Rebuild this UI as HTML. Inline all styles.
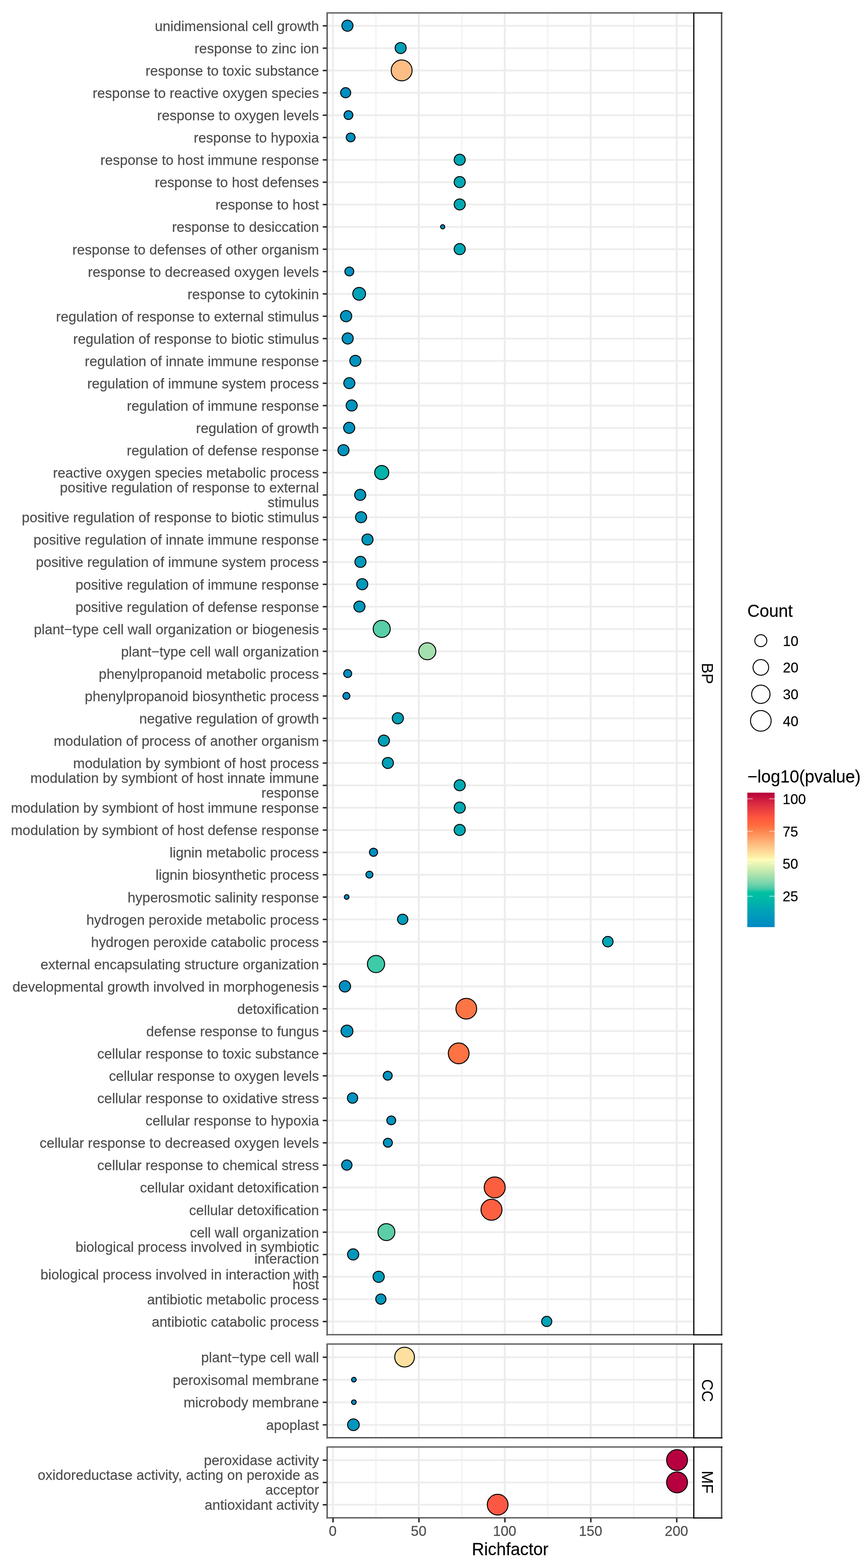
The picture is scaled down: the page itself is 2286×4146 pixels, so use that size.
<!DOCTYPE html>
<html lang="en">
<head>
<meta charset="utf-8">
<title>GO enrichment bubble plot</title>
<style>
html,body{margin:0;padding:0;background:#fff;}
body{width:2286px;height:4146px;overflow:hidden;}
svg{display:block;font-family:"Liberation Sans",Arial,Helvetica,sans-serif;}
</style>
</head>
<body>
<svg width="2286" height="4146" viewBox="0 0 2286 4146">
<rect x="0" y="0" width="2286" height="4146" fill="#fff"/>
<g>
<rect x="990.85" y="32.7" width="5" height="3494.9" fill="#FAFAFA"/>
<rect x="1217.95" y="32.7" width="5" height="3494.9" fill="#FAFAFA"/>
<rect x="1445.05" y="32.7" width="5" height="3494.9" fill="#FAFAFA"/>
<rect x="1672.15" y="32.7" width="5" height="3494.9" fill="#FAFAFA"/>
<rect x="863.1" y="65" width="968.9" height="6.6" fill="#F9F9F9"/>
<rect x="863.1" y="124.07" width="968.9" height="6.6" fill="#F9F9F9"/>
<rect x="863.1" y="183.14" width="968.9" height="6.6" fill="#F9F9F9"/>
<rect x="863.1" y="242.21" width="968.9" height="6.6" fill="#F9F9F9"/>
<rect x="863.1" y="301.28" width="968.9" height="6.6" fill="#F9F9F9"/>
<rect x="863.1" y="360.35" width="968.9" height="6.6" fill="#F9F9F9"/>
<rect x="863.1" y="419.42" width="968.9" height="6.6" fill="#F9F9F9"/>
<rect x="863.1" y="478.49" width="968.9" height="6.6" fill="#F9F9F9"/>
<rect x="863.1" y="537.56" width="968.9" height="6.6" fill="#F9F9F9"/>
<rect x="863.1" y="596.63" width="968.9" height="6.6" fill="#F9F9F9"/>
<rect x="863.1" y="655.7" width="968.9" height="6.6" fill="#F9F9F9"/>
<rect x="863.1" y="714.77" width="968.9" height="6.6" fill="#F9F9F9"/>
<rect x="863.1" y="773.84" width="968.9" height="6.6" fill="#F9F9F9"/>
<rect x="863.1" y="832.91" width="968.9" height="6.6" fill="#F9F9F9"/>
<rect x="863.1" y="891.98" width="968.9" height="6.6" fill="#F9F9F9"/>
<rect x="863.1" y="951.05" width="968.9" height="6.6" fill="#F9F9F9"/>
<rect x="863.1" y="1010.12" width="968.9" height="6.6" fill="#F9F9F9"/>
<rect x="863.1" y="1069.19" width="968.9" height="6.6" fill="#F9F9F9"/>
<rect x="863.1" y="1128.26" width="968.9" height="6.6" fill="#F9F9F9"/>
<rect x="863.1" y="1187.33" width="968.9" height="6.6" fill="#F9F9F9"/>
<rect x="863.1" y="1246.4" width="968.9" height="6.6" fill="#F9F9F9"/>
<rect x="863.1" y="1305.47" width="968.9" height="6.6" fill="#F9F9F9"/>
<rect x="863.1" y="1364.54" width="968.9" height="6.6" fill="#F9F9F9"/>
<rect x="863.1" y="1423.61" width="968.9" height="6.6" fill="#F9F9F9"/>
<rect x="863.1" y="1482.68" width="968.9" height="6.6" fill="#F9F9F9"/>
<rect x="863.1" y="1541.75" width="968.9" height="6.6" fill="#F9F9F9"/>
<rect x="863.1" y="1600.82" width="968.9" height="6.6" fill="#F9F9F9"/>
<rect x="863.1" y="1659.89" width="968.9" height="6.6" fill="#F9F9F9"/>
<rect x="863.1" y="1718.96" width="968.9" height="6.6" fill="#F9F9F9"/>
<rect x="863.1" y="1778.03" width="968.9" height="6.6" fill="#F9F9F9"/>
<rect x="863.1" y="1837.1" width="968.9" height="6.6" fill="#F9F9F9"/>
<rect x="863.1" y="1896.17" width="968.9" height="6.6" fill="#F9F9F9"/>
<rect x="863.1" y="1955.24" width="968.9" height="6.6" fill="#F9F9F9"/>
<rect x="863.1" y="2014.31" width="968.9" height="6.6" fill="#F9F9F9"/>
<rect x="863.1" y="2073.38" width="968.9" height="6.6" fill="#F9F9F9"/>
<rect x="863.1" y="2132.45" width="968.9" height="6.6" fill="#F9F9F9"/>
<rect x="863.1" y="2191.52" width="968.9" height="6.6" fill="#F9F9F9"/>
<rect x="863.1" y="2250.59" width="968.9" height="6.6" fill="#F9F9F9"/>
<rect x="863.1" y="2309.66" width="968.9" height="6.6" fill="#F9F9F9"/>
<rect x="863.1" y="2368.73" width="968.9" height="6.6" fill="#F9F9F9"/>
<rect x="863.1" y="2427.8" width="968.9" height="6.6" fill="#F9F9F9"/>
<rect x="863.1" y="2486.87" width="968.9" height="6.6" fill="#F9F9F9"/>
<rect x="863.1" y="2545.94" width="968.9" height="6.6" fill="#F9F9F9"/>
<rect x="863.1" y="2605.01" width="968.9" height="6.6" fill="#F9F9F9"/>
<rect x="863.1" y="2664.08" width="968.9" height="6.6" fill="#F9F9F9"/>
<rect x="863.1" y="2723.15" width="968.9" height="6.6" fill="#F9F9F9"/>
<rect x="863.1" y="2782.22" width="968.9" height="6.6" fill="#F9F9F9"/>
<rect x="863.1" y="2841.29" width="968.9" height="6.6" fill="#F9F9F9"/>
<rect x="863.1" y="2900.36" width="968.9" height="6.6" fill="#F9F9F9"/>
<rect x="863.1" y="2959.43" width="968.9" height="6.6" fill="#F9F9F9"/>
<rect x="863.1" y="3018.5" width="968.9" height="6.6" fill="#F9F9F9"/>
<rect x="863.1" y="3077.57" width="968.9" height="6.6" fill="#F9F9F9"/>
<rect x="863.1" y="3136.64" width="968.9" height="6.6" fill="#F9F9F9"/>
<rect x="863.1" y="3195.71" width="968.9" height="6.6" fill="#F9F9F9"/>
<rect x="863.1" y="3254.78" width="968.9" height="6.6" fill="#F9F9F9"/>
<rect x="863.1" y="3313.85" width="968.9" height="6.6" fill="#F9F9F9"/>
<rect x="863.1" y="3372.92" width="968.9" height="6.6" fill="#F9F9F9"/>
<rect x="863.1" y="3431.99" width="968.9" height="6.6" fill="#F9F9F9"/>
<rect x="863.1" y="3491.06" width="968.9" height="6.6" fill="#F9F9F9"/>
<rect x="876.3" y="32.7" width="7" height="3494.9" fill="#F9F9F9"/>
<rect x="1103.4" y="32.7" width="7" height="3494.9" fill="#F9F9F9"/>
<rect x="1330.5" y="32.7" width="7" height="3494.9" fill="#F9F9F9"/>
<rect x="1557.6" y="32.7" width="7" height="3494.9" fill="#F9F9F9"/>
<rect x="1784.7" y="32.7" width="7" height="3494.9" fill="#F9F9F9"/>
<rect x="992.25" y="32.7" width="2.2" height="3494.9" fill="#F1F1F1"/>
<rect x="1219.35" y="32.7" width="2.2" height="3494.9" fill="#F1F1F1"/>
<rect x="1446.45" y="32.7" width="2.2" height="3494.9" fill="#F1F1F1"/>
<rect x="1673.55" y="32.7" width="2.2" height="3494.9" fill="#F1F1F1"/>
<rect x="863.1" y="66.2" width="968.9" height="4.2" fill="#F1F1F1"/>
<rect x="863.1" y="125.27" width="968.9" height="4.2" fill="#F1F1F1"/>
<rect x="863.1" y="184.34" width="968.9" height="4.2" fill="#F1F1F1"/>
<rect x="863.1" y="243.41" width="968.9" height="4.2" fill="#F1F1F1"/>
<rect x="863.1" y="302.48" width="968.9" height="4.2" fill="#F1F1F1"/>
<rect x="863.1" y="361.55" width="968.9" height="4.2" fill="#F1F1F1"/>
<rect x="863.1" y="420.62" width="968.9" height="4.2" fill="#F1F1F1"/>
<rect x="863.1" y="479.69" width="968.9" height="4.2" fill="#F1F1F1"/>
<rect x="863.1" y="538.76" width="968.9" height="4.2" fill="#F1F1F1"/>
<rect x="863.1" y="597.83" width="968.9" height="4.2" fill="#F1F1F1"/>
<rect x="863.1" y="656.9" width="968.9" height="4.2" fill="#F1F1F1"/>
<rect x="863.1" y="715.97" width="968.9" height="4.2" fill="#F1F1F1"/>
<rect x="863.1" y="775.04" width="968.9" height="4.2" fill="#F1F1F1"/>
<rect x="863.1" y="834.11" width="968.9" height="4.2" fill="#F1F1F1"/>
<rect x="863.1" y="893.18" width="968.9" height="4.2" fill="#F1F1F1"/>
<rect x="863.1" y="952.25" width="968.9" height="4.2" fill="#F1F1F1"/>
<rect x="863.1" y="1011.32" width="968.9" height="4.2" fill="#F1F1F1"/>
<rect x="863.1" y="1070.39" width="968.9" height="4.2" fill="#F1F1F1"/>
<rect x="863.1" y="1129.46" width="968.9" height="4.2" fill="#F1F1F1"/>
<rect x="863.1" y="1188.53" width="968.9" height="4.2" fill="#F1F1F1"/>
<rect x="863.1" y="1247.6" width="968.9" height="4.2" fill="#F1F1F1"/>
<rect x="863.1" y="1306.67" width="968.9" height="4.2" fill="#F1F1F1"/>
<rect x="863.1" y="1365.74" width="968.9" height="4.2" fill="#F1F1F1"/>
<rect x="863.1" y="1424.81" width="968.9" height="4.2" fill="#F1F1F1"/>
<rect x="863.1" y="1483.88" width="968.9" height="4.2" fill="#F1F1F1"/>
<rect x="863.1" y="1542.95" width="968.9" height="4.2" fill="#F1F1F1"/>
<rect x="863.1" y="1602.02" width="968.9" height="4.2" fill="#F1F1F1"/>
<rect x="863.1" y="1661.09" width="968.9" height="4.2" fill="#F1F1F1"/>
<rect x="863.1" y="1720.16" width="968.9" height="4.2" fill="#F1F1F1"/>
<rect x="863.1" y="1779.23" width="968.9" height="4.2" fill="#F1F1F1"/>
<rect x="863.1" y="1838.3" width="968.9" height="4.2" fill="#F1F1F1"/>
<rect x="863.1" y="1897.37" width="968.9" height="4.2" fill="#F1F1F1"/>
<rect x="863.1" y="1956.44" width="968.9" height="4.2" fill="#F1F1F1"/>
<rect x="863.1" y="2015.51" width="968.9" height="4.2" fill="#F1F1F1"/>
<rect x="863.1" y="2074.58" width="968.9" height="4.2" fill="#F1F1F1"/>
<rect x="863.1" y="2133.65" width="968.9" height="4.2" fill="#F1F1F1"/>
<rect x="863.1" y="2192.72" width="968.9" height="4.2" fill="#F1F1F1"/>
<rect x="863.1" y="2251.79" width="968.9" height="4.2" fill="#F1F1F1"/>
<rect x="863.1" y="2310.86" width="968.9" height="4.2" fill="#F1F1F1"/>
<rect x="863.1" y="2369.93" width="968.9" height="4.2" fill="#F1F1F1"/>
<rect x="863.1" y="2429" width="968.9" height="4.2" fill="#F1F1F1"/>
<rect x="863.1" y="2488.07" width="968.9" height="4.2" fill="#F1F1F1"/>
<rect x="863.1" y="2547.14" width="968.9" height="4.2" fill="#F1F1F1"/>
<rect x="863.1" y="2606.21" width="968.9" height="4.2" fill="#F1F1F1"/>
<rect x="863.1" y="2665.28" width="968.9" height="4.2" fill="#F1F1F1"/>
<rect x="863.1" y="2724.35" width="968.9" height="4.2" fill="#F1F1F1"/>
<rect x="863.1" y="2783.42" width="968.9" height="4.2" fill="#F1F1F1"/>
<rect x="863.1" y="2842.49" width="968.9" height="4.2" fill="#F1F1F1"/>
<rect x="863.1" y="2901.56" width="968.9" height="4.2" fill="#F1F1F1"/>
<rect x="863.1" y="2960.63" width="968.9" height="4.2" fill="#F1F1F1"/>
<rect x="863.1" y="3019.7" width="968.9" height="4.2" fill="#F1F1F1"/>
<rect x="863.1" y="3078.77" width="968.9" height="4.2" fill="#F1F1F1"/>
<rect x="863.1" y="3137.84" width="968.9" height="4.2" fill="#F1F1F1"/>
<rect x="863.1" y="3196.91" width="968.9" height="4.2" fill="#F1F1F1"/>
<rect x="863.1" y="3255.98" width="968.9" height="4.2" fill="#F1F1F1"/>
<rect x="863.1" y="3315.05" width="968.9" height="4.2" fill="#F1F1F1"/>
<rect x="863.1" y="3374.12" width="968.9" height="4.2" fill="#F1F1F1"/>
<rect x="863.1" y="3433.19" width="968.9" height="4.2" fill="#F1F1F1"/>
<rect x="863.1" y="3492.26" width="968.9" height="4.2" fill="#F1F1F1"/>
<rect x="877.8" y="32.7" width="4" height="3494.9" fill="#ECECEC"/>
<rect x="1104.9" y="32.7" width="4" height="3494.9" fill="#ECECEC"/>
<rect x="1332" y="32.7" width="4" height="3494.9" fill="#ECECEC"/>
<rect x="1559.1" y="32.7" width="4" height="3494.9" fill="#ECECEC"/>
<rect x="1786.2" y="32.7" width="4" height="3494.9" fill="#ECECEC"/>
<rect x="863.1" y="67.3" width="968.9" height="2" fill="#EAEAEA"/>
<rect x="863.1" y="126.37" width="968.9" height="2" fill="#EAEAEA"/>
<rect x="863.1" y="185.44" width="968.9" height="2" fill="#EAEAEA"/>
<rect x="863.1" y="244.51" width="968.9" height="2" fill="#EAEAEA"/>
<rect x="863.1" y="303.58" width="968.9" height="2" fill="#EAEAEA"/>
<rect x="863.1" y="362.65" width="968.9" height="2" fill="#EAEAEA"/>
<rect x="863.1" y="421.72" width="968.9" height="2" fill="#EAEAEA"/>
<rect x="863.1" y="480.79" width="968.9" height="2" fill="#EAEAEA"/>
<rect x="863.1" y="539.86" width="968.9" height="2" fill="#EAEAEA"/>
<rect x="863.1" y="598.93" width="968.9" height="2" fill="#EAEAEA"/>
<rect x="863.1" y="658" width="968.9" height="2" fill="#EAEAEA"/>
<rect x="863.1" y="717.07" width="968.9" height="2" fill="#EAEAEA"/>
<rect x="863.1" y="776.14" width="968.9" height="2" fill="#EAEAEA"/>
<rect x="863.1" y="835.21" width="968.9" height="2" fill="#EAEAEA"/>
<rect x="863.1" y="894.28" width="968.9" height="2" fill="#EAEAEA"/>
<rect x="863.1" y="953.35" width="968.9" height="2" fill="#EAEAEA"/>
<rect x="863.1" y="1012.42" width="968.9" height="2" fill="#EAEAEA"/>
<rect x="863.1" y="1071.49" width="968.9" height="2" fill="#EAEAEA"/>
<rect x="863.1" y="1130.56" width="968.9" height="2" fill="#EAEAEA"/>
<rect x="863.1" y="1189.63" width="968.9" height="2" fill="#EAEAEA"/>
<rect x="863.1" y="1248.7" width="968.9" height="2" fill="#EAEAEA"/>
<rect x="863.1" y="1307.77" width="968.9" height="2" fill="#EAEAEA"/>
<rect x="863.1" y="1366.84" width="968.9" height="2" fill="#EAEAEA"/>
<rect x="863.1" y="1425.91" width="968.9" height="2" fill="#EAEAEA"/>
<rect x="863.1" y="1484.98" width="968.9" height="2" fill="#EAEAEA"/>
<rect x="863.1" y="1544.05" width="968.9" height="2" fill="#EAEAEA"/>
<rect x="863.1" y="1603.12" width="968.9" height="2" fill="#EAEAEA"/>
<rect x="863.1" y="1662.19" width="968.9" height="2" fill="#EAEAEA"/>
<rect x="863.1" y="1721.26" width="968.9" height="2" fill="#EAEAEA"/>
<rect x="863.1" y="1780.33" width="968.9" height="2" fill="#EAEAEA"/>
<rect x="863.1" y="1839.4" width="968.9" height="2" fill="#EAEAEA"/>
<rect x="863.1" y="1898.47" width="968.9" height="2" fill="#EAEAEA"/>
<rect x="863.1" y="1957.54" width="968.9" height="2" fill="#EAEAEA"/>
<rect x="863.1" y="2016.61" width="968.9" height="2" fill="#EAEAEA"/>
<rect x="863.1" y="2075.68" width="968.9" height="2" fill="#EAEAEA"/>
<rect x="863.1" y="2134.75" width="968.9" height="2" fill="#EAEAEA"/>
<rect x="863.1" y="2193.82" width="968.9" height="2" fill="#EAEAEA"/>
<rect x="863.1" y="2252.89" width="968.9" height="2" fill="#EAEAEA"/>
<rect x="863.1" y="2311.96" width="968.9" height="2" fill="#EAEAEA"/>
<rect x="863.1" y="2371.03" width="968.9" height="2" fill="#EAEAEA"/>
<rect x="863.1" y="2430.1" width="968.9" height="2" fill="#EAEAEA"/>
<rect x="863.1" y="2489.17" width="968.9" height="2" fill="#EAEAEA"/>
<rect x="863.1" y="2548.24" width="968.9" height="2" fill="#EAEAEA"/>
<rect x="863.1" y="2607.31" width="968.9" height="2" fill="#EAEAEA"/>
<rect x="863.1" y="2666.38" width="968.9" height="2" fill="#EAEAEA"/>
<rect x="863.1" y="2725.45" width="968.9" height="2" fill="#EAEAEA"/>
<rect x="863.1" y="2784.52" width="968.9" height="2" fill="#EAEAEA"/>
<rect x="863.1" y="2843.59" width="968.9" height="2" fill="#EAEAEA"/>
<rect x="863.1" y="2902.66" width="968.9" height="2" fill="#EAEAEA"/>
<rect x="863.1" y="2961.73" width="968.9" height="2" fill="#EAEAEA"/>
<rect x="863.1" y="3020.8" width="968.9" height="2" fill="#EAEAEA"/>
<rect x="863.1" y="3079.87" width="968.9" height="2" fill="#EAEAEA"/>
<rect x="863.1" y="3138.94" width="968.9" height="2" fill="#EAEAEA"/>
<rect x="863.1" y="3198.01" width="968.9" height="2" fill="#EAEAEA"/>
<rect x="863.1" y="3257.08" width="968.9" height="2" fill="#EAEAEA"/>
<rect x="863.1" y="3316.15" width="968.9" height="2" fill="#EAEAEA"/>
<rect x="863.1" y="3375.22" width="968.9" height="2" fill="#EAEAEA"/>
<rect x="863.1" y="3434.29" width="968.9" height="2" fill="#EAEAEA"/>
<rect x="863.1" y="3493.36" width="968.9" height="2" fill="#EAEAEA"/>
<circle cx="918.2" cy="68" r="14.65" fill="#0091C0" stroke="#000" stroke-width="2.5"/>
<circle cx="1058.8" cy="127.07" r="14.65" fill="#00A0B6" stroke="#000" stroke-width="2.5"/>
<circle cx="1061.5" cy="186.14" r="27.65" fill="#FDBE85" stroke="#000" stroke-width="2.5"/>
<circle cx="913.5" cy="245.21" r="13.35" fill="#008FC0" stroke="#000" stroke-width="2.5"/>
<circle cx="920.9" cy="304.28" r="11.65" fill="#008FC2" stroke="#000" stroke-width="2.5"/>
<circle cx="926.7" cy="363.35" r="11.65" fill="#0090C2" stroke="#000" stroke-width="2.5"/>
<circle cx="1214.9" cy="422.42" r="14.65" fill="#00A8B4" stroke="#000" stroke-width="2.5"/>
<circle cx="1214.9" cy="481.49" r="14.65" fill="#00A8B4" stroke="#000" stroke-width="2.5"/>
<circle cx="1214.9" cy="540.56" r="14.65" fill="#00A8B4" stroke="#000" stroke-width="2.5"/>
<circle cx="1169.9" cy="599.63" r="5.55" fill="#008CC4" stroke="#000" stroke-width="2.5"/>
<circle cx="1214.9" cy="658.7" r="14.65" fill="#00A8B4" stroke="#000" stroke-width="2.5"/>
<circle cx="923.2" cy="717.77" r="11.75" fill="#0090C2" stroke="#000" stroke-width="2.5"/>
<circle cx="949.2" cy="776.84" r="16.95" fill="#00A2B8" stroke="#000" stroke-width="2.5"/>
<circle cx="914.7" cy="835.91" r="14.85" fill="#0094BF" stroke="#000" stroke-width="2.5"/>
<circle cx="918.9" cy="894.98" r="14.65" fill="#0094BF" stroke="#000" stroke-width="2.5"/>
<circle cx="939.1" cy="954.05" r="14.65" fill="#0094BF" stroke="#000" stroke-width="2.5"/>
<circle cx="923.2" cy="1013.12" r="14.65" fill="#0094BF" stroke="#000" stroke-width="2.5"/>
<circle cx="929.4" cy="1072.19" r="14.65" fill="#0094BF" stroke="#000" stroke-width="2.5"/>
<circle cx="922.8" cy="1131.26" r="14.65" fill="#0094BF" stroke="#000" stroke-width="2.5"/>
<circle cx="907.7" cy="1190.33" r="14.65" fill="#0094BF" stroke="#000" stroke-width="2.5"/>
<circle cx="1008.8" cy="1249.4" r="18.65" fill="#00B2A9" stroke="#000" stroke-width="2.5"/>
<circle cx="951.9" cy="1308.47" r="14.65" fill="#0099BC" stroke="#000" stroke-width="2.5"/>
<circle cx="954.2" cy="1367.54" r="14.65" fill="#0099BC" stroke="#000" stroke-width="2.5"/>
<circle cx="971.2" cy="1426.61" r="14.65" fill="#0099BC" stroke="#000" stroke-width="2.5"/>
<circle cx="952.6" cy="1485.68" r="14.65" fill="#0099BC" stroke="#000" stroke-width="2.5"/>
<circle cx="957.3" cy="1544.75" r="14.65" fill="#0099BC" stroke="#000" stroke-width="2.5"/>
<circle cx="949.9" cy="1603.82" r="14.65" fill="#0099BC" stroke="#000" stroke-width="2.5"/>
<circle cx="1008.8" cy="1662.89" r="22.55" fill="#58CEA9" stroke="#000" stroke-width="2.5"/>
<circle cx="1129.3" cy="1721.96" r="22.55" fill="#A3E0AF" stroke="#000" stroke-width="2.5"/>
<circle cx="918.9" cy="1781.03" r="10.55" fill="#008FC3" stroke="#000" stroke-width="2.5"/>
<circle cx="915.5" cy="1840.1" r="9.25" fill="#008FC3" stroke="#000" stroke-width="2.5"/>
<circle cx="1051.4" cy="1899.17" r="14.75" fill="#00A0B7" stroke="#000" stroke-width="2.5"/>
<circle cx="1014.6" cy="1958.24" r="14.65" fill="#00A0B7" stroke="#000" stroke-width="2.5"/>
<circle cx="1025.1" cy="2017.31" r="14.65" fill="#00A0B7" stroke="#000" stroke-width="2.5"/>
<circle cx="1214.9" cy="2076.38" r="14.65" fill="#00AAB3" stroke="#000" stroke-width="2.5"/>
<circle cx="1214.9" cy="2135.45" r="14.65" fill="#00AAB3" stroke="#000" stroke-width="2.5"/>
<circle cx="1214.9" cy="2194.52" r="14.65" fill="#00AAB3" stroke="#000" stroke-width="2.5"/>
<circle cx="987.1" cy="2253.59" r="10.75" fill="#008FC3" stroke="#000" stroke-width="2.5"/>
<circle cx="976.3" cy="2312.66" r="9.25" fill="#008FC3" stroke="#000" stroke-width="2.5"/>
<circle cx="916.2" cy="2371.73" r="6.15" fill="#008FC3" stroke="#000" stroke-width="2.5"/>
<circle cx="1064.2" cy="2430.8" r="13.65" fill="#009DB9" stroke="#000" stroke-width="2.5"/>
<circle cx="1606.4" cy="2489.87" r="13.85" fill="#00A6B7" stroke="#000" stroke-width="2.5"/>
<circle cx="993.7" cy="2548.94" r="22.75" fill="#3ECBA8" stroke="#000" stroke-width="2.5"/>
<circle cx="911.6" cy="2608.01" r="14.95" fill="#0090C1" stroke="#000" stroke-width="2.5"/>
<circle cx="1232.3" cy="2667.08" r="27.45" fill="#FB7545" stroke="#000" stroke-width="2.5"/>
<circle cx="917" cy="2726.15" r="15.75" fill="#0094BF" stroke="#000" stroke-width="2.5"/>
<circle cx="1212.2" cy="2785.22" r="27.45" fill="#FD7343" stroke="#000" stroke-width="2.5"/>
<circle cx="1024.7" cy="2844.29" r="11.75" fill="#0094C0" stroke="#000" stroke-width="2.5"/>
<circle cx="931.7" cy="2903.36" r="13.65" fill="#0094C0" stroke="#000" stroke-width="2.5"/>
<circle cx="1034" cy="2962.43" r="11.75" fill="#0094C0" stroke="#000" stroke-width="2.5"/>
<circle cx="1025.1" cy="3021.5" r="11.85" fill="#0094C0" stroke="#000" stroke-width="2.5"/>
<circle cx="916.6" cy="3080.57" r="13.65" fill="#0092C1" stroke="#000" stroke-width="2.5"/>
<circle cx="1307.4" cy="3139.64" r="27.75" fill="#FC5F3F" stroke="#000" stroke-width="2.5"/>
<circle cx="1298.9" cy="3198.71" r="27.75" fill="#FC6040" stroke="#000" stroke-width="2.5"/>
<circle cx="1021.2" cy="3257.78" r="22.35" fill="#5BCEA9" stroke="#000" stroke-width="2.5"/>
<circle cx="933.3" cy="3316.85" r="14.75" fill="#0097BD" stroke="#000" stroke-width="2.5"/>
<circle cx="1000.7" cy="3375.92" r="14.75" fill="#009CBA" stroke="#000" stroke-width="2.5"/>
<circle cx="1006.5" cy="3434.99" r="13.45" fill="#0099BC" stroke="#000" stroke-width="2.5"/>
<circle cx="1444.9" cy="3494.06" r="13.45" fill="#00A2B8" stroke="#000" stroke-width="2.5"/>
<rect x="863.1" y="32.7" width="968.9" height="2" fill="#262626"/>
<rect x="863.1" y="34.7" width="968.9" height="1.7" fill="#8f8f8f"/>
<rect x="863.1" y="3527.6" width="970.9" height="2" fill="#262626"/>
<rect x="863.1" y="3529.6" width="970.9" height="1.7" fill="#8f8f8f"/>
<rect x="863.1" y="32.7" width="2" height="3498.6" fill="#262626"/>
<rect x="865.1" y="32.7" width="1.7" height="3498.6" fill="#8f8f8f"/>
<rect x="1832" y="32.7" width="2" height="3498.4" fill="#000"/>
<rect x="1834" y="32.7" width="1.2" height="3498.4" fill="#1a1a1a"/>
<rect x="1905.4" y="32.7" width="2" height="3498.4" fill="#222"/>
<rect x="1907.4" y="32.7" width="1.8" height="3498.4" fill="#666"/>
<rect x="1832" y="32.7" width="77.2" height="3.0" fill="#111"/>
<rect x="1832" y="3527.8" width="77.2" height="3.3" fill="#111"/>
<text transform="translate(1870.3 1780.8) rotate(90)" text-anchor="middle" font-size="42" fill="#000" y="15.1">BP</text>
<rect x="853" y="66.4" width="10.1" height="3.8" fill="#262626"/>
<text transform="translate(843 81.8) scale(1 1.02)" text-anchor="end" font-size="37" fill="#4D4D4D" stroke="#4D4D4D" stroke-width="0.25">unidimensional cell growth</text>
<rect x="853" y="125.47" width="10.1" height="3.8" fill="#262626"/>
<text transform="translate(843 140.87) scale(1 1.02)" text-anchor="end" font-size="37" fill="#4D4D4D" stroke="#4D4D4D" stroke-width="0.25">response to zinc ion</text>
<rect x="853" y="184.54" width="10.1" height="3.8" fill="#262626"/>
<text transform="translate(843 199.94) scale(1 1.02)" text-anchor="end" font-size="37" fill="#4D4D4D" stroke="#4D4D4D" stroke-width="0.25">response to toxic substance</text>
<rect x="853" y="243.61" width="10.1" height="3.8" fill="#262626"/>
<text transform="translate(843 259.01) scale(1 1.02)" text-anchor="end" font-size="37" fill="#4D4D4D" stroke="#4D4D4D" stroke-width="0.25">response to reactive oxygen species</text>
<rect x="853" y="302.68" width="10.1" height="3.8" fill="#262626"/>
<text transform="translate(843 318.08) scale(1 1.02)" text-anchor="end" font-size="37" fill="#4D4D4D" stroke="#4D4D4D" stroke-width="0.25">response to oxygen levels</text>
<rect x="853" y="361.75" width="10.1" height="3.8" fill="#262626"/>
<text transform="translate(843 377.15) scale(1 1.02)" text-anchor="end" font-size="37" fill="#4D4D4D" stroke="#4D4D4D" stroke-width="0.25">response to hypoxia</text>
<rect x="853" y="420.82" width="10.1" height="3.8" fill="#262626"/>
<text transform="translate(843 436.22) scale(1 1.02)" text-anchor="end" font-size="37" fill="#4D4D4D" stroke="#4D4D4D" stroke-width="0.25">response to host immune response</text>
<rect x="853" y="479.89" width="10.1" height="3.8" fill="#262626"/>
<text transform="translate(843 495.29) scale(1 1.02)" text-anchor="end" font-size="37" fill="#4D4D4D" stroke="#4D4D4D" stroke-width="0.25">response to host defenses</text>
<rect x="853" y="538.96" width="10.1" height="3.8" fill="#262626"/>
<text transform="translate(843 554.36) scale(1 1.02)" text-anchor="end" font-size="37" fill="#4D4D4D" stroke="#4D4D4D" stroke-width="0.25">response to host</text>
<rect x="853" y="598.03" width="10.1" height="3.8" fill="#262626"/>
<text transform="translate(843 613.43) scale(1 1.02)" text-anchor="end" font-size="37" fill="#4D4D4D" stroke="#4D4D4D" stroke-width="0.25">response to desiccation</text>
<rect x="853" y="657.1" width="10.1" height="3.8" fill="#262626"/>
<text transform="translate(843 672.5) scale(1 1.02)" text-anchor="end" font-size="37" fill="#4D4D4D" stroke="#4D4D4D" stroke-width="0.25">response to defenses of other organism</text>
<rect x="853" y="716.17" width="10.1" height="3.8" fill="#262626"/>
<text transform="translate(843 731.57) scale(1 1.02)" text-anchor="end" font-size="37" fill="#4D4D4D" stroke="#4D4D4D" stroke-width="0.25">response to decreased oxygen levels</text>
<rect x="853" y="775.24" width="10.1" height="3.8" fill="#262626"/>
<text transform="translate(843 790.64) scale(1 1.02)" text-anchor="end" font-size="37" fill="#4D4D4D" stroke="#4D4D4D" stroke-width="0.25">response to cytokinin</text>
<rect x="853" y="834.31" width="10.1" height="3.8" fill="#262626"/>
<text transform="translate(843 849.71) scale(1 1.02)" text-anchor="end" font-size="37" fill="#4D4D4D" stroke="#4D4D4D" stroke-width="0.25">regulation of response to external stimulus</text>
<rect x="853" y="893.38" width="10.1" height="3.8" fill="#262626"/>
<text transform="translate(843 908.78) scale(1 1.02)" text-anchor="end" font-size="37" fill="#4D4D4D" stroke="#4D4D4D" stroke-width="0.25">regulation of response to biotic stimulus</text>
<rect x="853" y="952.45" width="10.1" height="3.8" fill="#262626"/>
<text transform="translate(843 967.85) scale(1 1.02)" text-anchor="end" font-size="37" fill="#4D4D4D" stroke="#4D4D4D" stroke-width="0.25">regulation of innate immune response</text>
<rect x="853" y="1011.52" width="10.1" height="3.8" fill="#262626"/>
<text transform="translate(843 1026.92) scale(1 1.02)" text-anchor="end" font-size="37" fill="#4D4D4D" stroke="#4D4D4D" stroke-width="0.25">regulation of immune system process</text>
<rect x="853" y="1070.59" width="10.1" height="3.8" fill="#262626"/>
<text transform="translate(843 1085.99) scale(1 1.02)" text-anchor="end" font-size="37" fill="#4D4D4D" stroke="#4D4D4D" stroke-width="0.25">regulation of immune response</text>
<rect x="853" y="1129.66" width="10.1" height="3.8" fill="#262626"/>
<text transform="translate(843 1145.06) scale(1 1.02)" text-anchor="end" font-size="37" fill="#4D4D4D" stroke="#4D4D4D" stroke-width="0.25">regulation of growth</text>
<rect x="853" y="1188.73" width="10.1" height="3.8" fill="#262626"/>
<text transform="translate(843 1204.13) scale(1 1.02)" text-anchor="end" font-size="37" fill="#4D4D4D" stroke="#4D4D4D" stroke-width="0.25">regulation of defense response</text>
<rect x="853" y="1247.8" width="10.1" height="3.8" fill="#262626"/>
<text transform="translate(843 1263.2) scale(1 1.02)" text-anchor="end" font-size="37" fill="#4D4D4D" stroke="#4D4D4D" stroke-width="0.25">reactive oxygen species metabolic process</text>
<rect x="853" y="1306.87" width="10.1" height="3.8" fill="#262626"/>
<text transform="translate(843 1302.07) scale(1 1.02)" text-anchor="end" font-size="37" fill="#4D4D4D" stroke="#4D4D4D" stroke-width="0.25">positive regulation of response to external</text>
<text transform="translate(843 1340.87) scale(1 1.02)" text-anchor="end" font-size="37" fill="#4D4D4D" stroke="#4D4D4D" stroke-width="0.25">stimulus</text>
<rect x="853" y="1365.94" width="10.1" height="3.8" fill="#262626"/>
<text transform="translate(843 1381.34) scale(1 1.02)" text-anchor="end" font-size="37" fill="#4D4D4D" stroke="#4D4D4D" stroke-width="0.25">positive regulation of response to biotic stimulus</text>
<rect x="853" y="1425.01" width="10.1" height="3.8" fill="#262626"/>
<text transform="translate(843 1440.41) scale(1 1.02)" text-anchor="end" font-size="37" fill="#4D4D4D" stroke="#4D4D4D" stroke-width="0.25">positive regulation of innate immune response</text>
<rect x="853" y="1484.08" width="10.1" height="3.8" fill="#262626"/>
<text transform="translate(843 1499.48) scale(1 1.02)" text-anchor="end" font-size="37" fill="#4D4D4D" stroke="#4D4D4D" stroke-width="0.25">positive regulation of immune system process</text>
<rect x="853" y="1543.15" width="10.1" height="3.8" fill="#262626"/>
<text transform="translate(843 1558.55) scale(1 1.02)" text-anchor="end" font-size="37" fill="#4D4D4D" stroke="#4D4D4D" stroke-width="0.25">positive regulation of immune response</text>
<rect x="853" y="1602.22" width="10.1" height="3.8" fill="#262626"/>
<text transform="translate(843 1617.62) scale(1 1.02)" text-anchor="end" font-size="37" fill="#4D4D4D" stroke="#4D4D4D" stroke-width="0.25">positive regulation of defense response</text>
<rect x="853" y="1661.29" width="10.1" height="3.8" fill="#262626"/>
<text transform="translate(843 1676.69) scale(1 1.02)" text-anchor="end" font-size="37" fill="#4D4D4D" stroke="#4D4D4D" stroke-width="0.25">plant−type cell wall organization or biogenesis</text>
<rect x="853" y="1720.36" width="10.1" height="3.8" fill="#262626"/>
<text transform="translate(843 1735.76) scale(1 1.02)" text-anchor="end" font-size="37" fill="#4D4D4D" stroke="#4D4D4D" stroke-width="0.25">plant−type cell wall organization</text>
<rect x="853" y="1779.43" width="10.1" height="3.8" fill="#262626"/>
<text transform="translate(843 1794.83) scale(1 1.02)" text-anchor="end" font-size="37" fill="#4D4D4D" stroke="#4D4D4D" stroke-width="0.25">phenylpropanoid metabolic process</text>
<rect x="853" y="1838.5" width="10.1" height="3.8" fill="#262626"/>
<text transform="translate(843 1853.9) scale(1 1.02)" text-anchor="end" font-size="37" fill="#4D4D4D" stroke="#4D4D4D" stroke-width="0.25">phenylpropanoid biosynthetic process</text>
<rect x="853" y="1897.57" width="10.1" height="3.8" fill="#262626"/>
<text transform="translate(843 1912.97) scale(1 1.02)" text-anchor="end" font-size="37" fill="#4D4D4D" stroke="#4D4D4D" stroke-width="0.25">negative regulation of growth</text>
<rect x="853" y="1956.64" width="10.1" height="3.8" fill="#262626"/>
<text transform="translate(843 1972.04) scale(1 1.02)" text-anchor="end" font-size="37" fill="#4D4D4D" stroke="#4D4D4D" stroke-width="0.25">modulation of process of another organism</text>
<rect x="853" y="2015.71" width="10.1" height="3.8" fill="#262626"/>
<text transform="translate(843 2031.11) scale(1 1.02)" text-anchor="end" font-size="37" fill="#4D4D4D" stroke="#4D4D4D" stroke-width="0.25">modulation by symbiont of host process</text>
<rect x="853" y="2074.78" width="10.1" height="3.8" fill="#262626"/>
<text transform="translate(843 2069.98) scale(1 1.02)" text-anchor="end" font-size="37" fill="#4D4D4D" stroke="#4D4D4D" stroke-width="0.25">modulation by symbiont of host innate immune</text>
<text transform="translate(843 2108.78) scale(1 1.02)" text-anchor="end" font-size="37" fill="#4D4D4D" stroke="#4D4D4D" stroke-width="0.25">response</text>
<rect x="853" y="2133.85" width="10.1" height="3.8" fill="#262626"/>
<text transform="translate(843 2149.25) scale(1 1.02)" text-anchor="end" font-size="37" fill="#4D4D4D" stroke="#4D4D4D" stroke-width="0.25">modulation by symbiont of host immune response</text>
<rect x="853" y="2192.92" width="10.1" height="3.8" fill="#262626"/>
<text transform="translate(843 2208.32) scale(1 1.02)" text-anchor="end" font-size="37" fill="#4D4D4D" stroke="#4D4D4D" stroke-width="0.25">modulation by symbiont of host defense response</text>
<rect x="853" y="2251.99" width="10.1" height="3.8" fill="#262626"/>
<text transform="translate(843 2267.39) scale(1 1.02)" text-anchor="end" font-size="37" fill="#4D4D4D" stroke="#4D4D4D" stroke-width="0.25">lignin metabolic process</text>
<rect x="853" y="2311.06" width="10.1" height="3.8" fill="#262626"/>
<text transform="translate(843 2326.46) scale(1 1.02)" text-anchor="end" font-size="37" fill="#4D4D4D" stroke="#4D4D4D" stroke-width="0.25">lignin biosynthetic process</text>
<rect x="853" y="2370.13" width="10.1" height="3.8" fill="#262626"/>
<text transform="translate(843 2385.53) scale(1 1.02)" text-anchor="end" font-size="37" fill="#4D4D4D" stroke="#4D4D4D" stroke-width="0.25">hyperosmotic salinity response</text>
<rect x="853" y="2429.2" width="10.1" height="3.8" fill="#262626"/>
<text transform="translate(843 2444.6) scale(1 1.02)" text-anchor="end" font-size="37" fill="#4D4D4D" stroke="#4D4D4D" stroke-width="0.25">hydrogen peroxide metabolic process</text>
<rect x="853" y="2488.27" width="10.1" height="3.8" fill="#262626"/>
<text transform="translate(843 2503.67) scale(1 1.02)" text-anchor="end" font-size="37" fill="#4D4D4D" stroke="#4D4D4D" stroke-width="0.25">hydrogen peroxide catabolic process</text>
<rect x="853" y="2547.34" width="10.1" height="3.8" fill="#262626"/>
<text transform="translate(843 2562.74) scale(1 1.02)" text-anchor="end" font-size="37" fill="#4D4D4D" stroke="#4D4D4D" stroke-width="0.25">external encapsulating structure organization</text>
<rect x="853" y="2606.41" width="10.1" height="3.8" fill="#262626"/>
<text transform="translate(843 2621.81) scale(1 1.02)" text-anchor="end" font-size="37" fill="#4D4D4D" stroke="#4D4D4D" stroke-width="0.25">developmental growth involved in morphogenesis</text>
<rect x="853" y="2665.48" width="10.1" height="3.8" fill="#262626"/>
<text transform="translate(843 2680.88) scale(1 1.02)" text-anchor="end" font-size="37" fill="#4D4D4D" stroke="#4D4D4D" stroke-width="0.25">detoxification</text>
<rect x="853" y="2724.55" width="10.1" height="3.8" fill="#262626"/>
<text transform="translate(843 2739.95) scale(1 1.02)" text-anchor="end" font-size="37" fill="#4D4D4D" stroke="#4D4D4D" stroke-width="0.25">defense response to fungus</text>
<rect x="853" y="2783.62" width="10.1" height="3.8" fill="#262626"/>
<text transform="translate(843 2799.02) scale(1 1.02)" text-anchor="end" font-size="37" fill="#4D4D4D" stroke="#4D4D4D" stroke-width="0.25">cellular response to toxic substance</text>
<rect x="853" y="2842.69" width="10.1" height="3.8" fill="#262626"/>
<text transform="translate(843 2858.09) scale(1 1.02)" text-anchor="end" font-size="37" fill="#4D4D4D" stroke="#4D4D4D" stroke-width="0.25">cellular response to oxygen levels</text>
<rect x="853" y="2901.76" width="10.1" height="3.8" fill="#262626"/>
<text transform="translate(843 2917.16) scale(1 1.02)" text-anchor="end" font-size="37" fill="#4D4D4D" stroke="#4D4D4D" stroke-width="0.25">cellular response to oxidative stress</text>
<rect x="853" y="2960.83" width="10.1" height="3.8" fill="#262626"/>
<text transform="translate(843 2976.23) scale(1 1.02)" text-anchor="end" font-size="37" fill="#4D4D4D" stroke="#4D4D4D" stroke-width="0.25">cellular response to hypoxia</text>
<rect x="853" y="3019.9" width="10.1" height="3.8" fill="#262626"/>
<text transform="translate(843 3035.3) scale(1 1.02)" text-anchor="end" font-size="37" fill="#4D4D4D" stroke="#4D4D4D" stroke-width="0.25">cellular response to decreased oxygen levels</text>
<rect x="853" y="3078.97" width="10.1" height="3.8" fill="#262626"/>
<text transform="translate(843 3094.37) scale(1 1.02)" text-anchor="end" font-size="37" fill="#4D4D4D" stroke="#4D4D4D" stroke-width="0.25">cellular response to chemical stress</text>
<rect x="853" y="3138.04" width="10.1" height="3.8" fill="#262626"/>
<text transform="translate(843 3153.44) scale(1 1.02)" text-anchor="end" font-size="37" fill="#4D4D4D" stroke="#4D4D4D" stroke-width="0.25">cellular oxidant detoxification</text>
<rect x="853" y="3197.11" width="10.1" height="3.8" fill="#262626"/>
<text transform="translate(843 3212.51) scale(1 1.02)" text-anchor="end" font-size="37" fill="#4D4D4D" stroke="#4D4D4D" stroke-width="0.25">cellular detoxification</text>
<rect x="853" y="3256.18" width="10.1" height="3.8" fill="#262626"/>
<text transform="translate(843 3271.58) scale(1 1.02)" text-anchor="end" font-size="37" fill="#4D4D4D" stroke="#4D4D4D" stroke-width="0.25">cell wall organization</text>
<rect x="853" y="3315.25" width="10.1" height="3.8" fill="#262626"/>
<text transform="translate(843 3309.8) scale(1 1.02)" text-anchor="end" font-size="37" fill="#4D4D4D" stroke="#4D4D4D" stroke-width="0.25">biological process involved in symbiotic</text>
<text transform="translate(843 3340.9) scale(1 1.02)" text-anchor="end" font-size="37" fill="#4D4D4D" stroke="#4D4D4D" stroke-width="0.25">interaction</text>
<rect x="853" y="3374.32" width="10.1" height="3.8" fill="#262626"/>
<text transform="translate(843 3382.6) scale(1 1.02)" text-anchor="end" font-size="37" fill="#4D4D4D" stroke="#4D4D4D" stroke-width="0.25">biological process involved in interaction with</text>
<text transform="translate(843 3408.5) scale(1 1.02)" text-anchor="end" font-size="37" fill="#4D4D4D" stroke="#4D4D4D" stroke-width="0.25">host</text>
<rect x="853" y="3433.39" width="10.1" height="3.8" fill="#262626"/>
<text transform="translate(843 3448.79) scale(1 1.02)" text-anchor="end" font-size="37" fill="#4D4D4D" stroke="#4D4D4D" stroke-width="0.25">antibiotic metabolic process</text>
<rect x="853" y="3492.46" width="10.1" height="3.8" fill="#262626"/>
<text transform="translate(843 3507.86) scale(1 1.02)" text-anchor="end" font-size="37" fill="#4D4D4D" stroke="#4D4D4D" stroke-width="0.25">antibiotic catabolic process</text>
</g>
<g>
<rect x="990.85" y="3552.4" width="5" height="247.6" fill="#FAFAFA"/>
<rect x="1217.95" y="3552.4" width="5" height="247.6" fill="#FAFAFA"/>
<rect x="1445.05" y="3552.4" width="5" height="247.6" fill="#FAFAFA"/>
<rect x="1672.15" y="3552.4" width="5" height="247.6" fill="#FAFAFA"/>
<rect x="863.1" y="3585.4" width="968.9" height="6.6" fill="#F9F9F9"/>
<rect x="863.1" y="3645" width="968.9" height="6.6" fill="#F9F9F9"/>
<rect x="863.1" y="3704.6" width="968.9" height="6.6" fill="#F9F9F9"/>
<rect x="863.1" y="3764.2" width="968.9" height="6.6" fill="#F9F9F9"/>
<rect x="876.3" y="3552.4" width="7" height="247.6" fill="#F9F9F9"/>
<rect x="1103.4" y="3552.4" width="7" height="247.6" fill="#F9F9F9"/>
<rect x="1330.5" y="3552.4" width="7" height="247.6" fill="#F9F9F9"/>
<rect x="1557.6" y="3552.4" width="7" height="247.6" fill="#F9F9F9"/>
<rect x="1784.7" y="3552.4" width="7" height="247.6" fill="#F9F9F9"/>
<rect x="992.25" y="3552.4" width="2.2" height="247.6" fill="#F1F1F1"/>
<rect x="1219.35" y="3552.4" width="2.2" height="247.6" fill="#F1F1F1"/>
<rect x="1446.45" y="3552.4" width="2.2" height="247.6" fill="#F1F1F1"/>
<rect x="1673.55" y="3552.4" width="2.2" height="247.6" fill="#F1F1F1"/>
<rect x="863.1" y="3586.6" width="968.9" height="4.2" fill="#F1F1F1"/>
<rect x="863.1" y="3646.2" width="968.9" height="4.2" fill="#F1F1F1"/>
<rect x="863.1" y="3705.8" width="968.9" height="4.2" fill="#F1F1F1"/>
<rect x="863.1" y="3765.4" width="968.9" height="4.2" fill="#F1F1F1"/>
<rect x="877.8" y="3552.4" width="4" height="247.6" fill="#ECECEC"/>
<rect x="1104.9" y="3552.4" width="4" height="247.6" fill="#ECECEC"/>
<rect x="1332" y="3552.4" width="4" height="247.6" fill="#ECECEC"/>
<rect x="1559.1" y="3552.4" width="4" height="247.6" fill="#ECECEC"/>
<rect x="1786.2" y="3552.4" width="4" height="247.6" fill="#ECECEC"/>
<rect x="863.1" y="3587.7" width="968.9" height="2" fill="#EAEAEA"/>
<rect x="863.1" y="3647.3" width="968.9" height="2" fill="#EAEAEA"/>
<rect x="863.1" y="3706.9" width="968.9" height="2" fill="#EAEAEA"/>
<rect x="863.1" y="3766.5" width="968.9" height="2" fill="#EAEAEA"/>
<circle cx="1069.2" cy="3588.4" r="26.05" fill="#FDE09F" stroke="#000" stroke-width="2.5"/>
<circle cx="935.2" cy="3648" r="6.15" fill="#008CC4" stroke="#000" stroke-width="2.5"/>
<circle cx="935.2" cy="3707.6" r="6.15" fill="#008CC4" stroke="#000" stroke-width="2.5"/>
<circle cx="934" cy="3767.2" r="15.45" fill="#0097BD" stroke="#000" stroke-width="2.5"/>
<rect x="863.1" y="3552.4" width="968.9" height="2" fill="#262626"/>
<rect x="863.1" y="3554.4" width="968.9" height="1.7" fill="#8f8f8f"/>
<rect x="863.1" y="3800" width="970.9" height="2" fill="#262626"/>
<rect x="863.1" y="3802" width="970.9" height="1.7" fill="#8f8f8f"/>
<rect x="863.1" y="3552.4" width="2" height="251.3" fill="#262626"/>
<rect x="865.1" y="3552.4" width="1.7" height="251.3" fill="#8f8f8f"/>
<rect x="1832" y="3552.4" width="2" height="251.1" fill="#000"/>
<rect x="1834" y="3552.4" width="1.2" height="251.1" fill="#1a1a1a"/>
<rect x="1905.4" y="3552.4" width="2" height="251.1" fill="#222"/>
<rect x="1907.4" y="3552.4" width="1.8" height="251.1" fill="#666"/>
<rect x="1832" y="3552.4" width="77.2" height="3.0" fill="#111"/>
<rect x="1832" y="3800.2" width="77.2" height="3.3" fill="#111"/>
<text transform="translate(1870.3 3676.85) rotate(90)" text-anchor="middle" font-size="42" fill="#000" y="15.1">CC</text>
<rect x="853" y="3586.8" width="10.1" height="3.8" fill="#262626"/>
<text transform="translate(843 3602.2) scale(1 1.02)" text-anchor="end" font-size="37" fill="#4D4D4D" stroke="#4D4D4D" stroke-width="0.25">plant−type cell wall</text>
<rect x="853" y="3646.4" width="10.1" height="3.8" fill="#262626"/>
<text transform="translate(843 3661.8) scale(1 1.02)" text-anchor="end" font-size="37" fill="#4D4D4D" stroke="#4D4D4D" stroke-width="0.25">peroxisomal membrane</text>
<rect x="853" y="3706" width="10.1" height="3.8" fill="#262626"/>
<text transform="translate(843 3721.4) scale(1 1.02)" text-anchor="end" font-size="37" fill="#4D4D4D" stroke="#4D4D4D" stroke-width="0.25">microbody membrane</text>
<rect x="853" y="3765.6" width="10.1" height="3.8" fill="#262626"/>
<text transform="translate(843 3781) scale(1 1.02)" text-anchor="end" font-size="37" fill="#4D4D4D" stroke="#4D4D4D" stroke-width="0.25">apoplast</text>
</g>
<g>
<rect x="990.85" y="3824.6" width="5" height="187.2" fill="#FAFAFA"/>
<rect x="1217.95" y="3824.6" width="5" height="187.2" fill="#FAFAFA"/>
<rect x="1445.05" y="3824.6" width="5" height="187.2" fill="#FAFAFA"/>
<rect x="1672.15" y="3824.6" width="5" height="187.2" fill="#FAFAFA"/>
<rect x="863.1" y="3857.6" width="968.9" height="6.6" fill="#F9F9F9"/>
<rect x="863.1" y="3916.55" width="968.9" height="6.6" fill="#F9F9F9"/>
<rect x="863.1" y="3975.5" width="968.9" height="6.6" fill="#F9F9F9"/>
<rect x="876.3" y="3824.6" width="7" height="187.2" fill="#F9F9F9"/>
<rect x="1103.4" y="3824.6" width="7" height="187.2" fill="#F9F9F9"/>
<rect x="1330.5" y="3824.6" width="7" height="187.2" fill="#F9F9F9"/>
<rect x="1557.6" y="3824.6" width="7" height="187.2" fill="#F9F9F9"/>
<rect x="1784.7" y="3824.6" width="7" height="187.2" fill="#F9F9F9"/>
<rect x="992.25" y="3824.6" width="2.2" height="187.2" fill="#F1F1F1"/>
<rect x="1219.35" y="3824.6" width="2.2" height="187.2" fill="#F1F1F1"/>
<rect x="1446.45" y="3824.6" width="2.2" height="187.2" fill="#F1F1F1"/>
<rect x="1673.55" y="3824.6" width="2.2" height="187.2" fill="#F1F1F1"/>
<rect x="863.1" y="3858.8" width="968.9" height="4.2" fill="#F1F1F1"/>
<rect x="863.1" y="3917.75" width="968.9" height="4.2" fill="#F1F1F1"/>
<rect x="863.1" y="3976.7" width="968.9" height="4.2" fill="#F1F1F1"/>
<rect x="877.8" y="3824.6" width="4" height="187.2" fill="#ECECEC"/>
<rect x="1104.9" y="3824.6" width="4" height="187.2" fill="#ECECEC"/>
<rect x="1332" y="3824.6" width="4" height="187.2" fill="#ECECEC"/>
<rect x="1559.1" y="3824.6" width="4" height="187.2" fill="#ECECEC"/>
<rect x="1786.2" y="3824.6" width="4" height="187.2" fill="#ECECEC"/>
<rect x="863.1" y="3859.9" width="968.9" height="2" fill="#EAEAEA"/>
<rect x="863.1" y="3918.85" width="968.9" height="2" fill="#EAEAEA"/>
<rect x="863.1" y="3977.8" width="968.9" height="2" fill="#EAEAEA"/>
<circle cx="1789.3" cy="3860.6" r="27.65" fill="#B7003F" stroke="#000" stroke-width="2.5"/>
<circle cx="1789.3" cy="3919.55" r="27.65" fill="#B7003F" stroke="#000" stroke-width="2.5"/>
<circle cx="1315.2" cy="3978.5" r="27.45" fill="#FC5844" stroke="#000" stroke-width="2.5"/>
<rect x="863.1" y="3824.6" width="968.9" height="2" fill="#262626"/>
<rect x="863.1" y="3826.6" width="968.9" height="1.7" fill="#8f8f8f"/>
<rect x="863.1" y="4011.8" width="970.9" height="2" fill="#262626"/>
<rect x="863.1" y="4013.8" width="970.9" height="1.7" fill="#8f8f8f"/>
<rect x="863.1" y="3824.6" width="2" height="190.9" fill="#262626"/>
<rect x="865.1" y="3824.6" width="1.7" height="190.9" fill="#8f8f8f"/>
<rect x="1832" y="3824.6" width="2" height="190.7" fill="#000"/>
<rect x="1834" y="3824.6" width="1.2" height="190.7" fill="#1a1a1a"/>
<rect x="1905.4" y="3824.6" width="2" height="190.7" fill="#222"/>
<rect x="1907.4" y="3824.6" width="1.8" height="190.7" fill="#666"/>
<rect x="1832" y="3824.6" width="77.2" height="3.0" fill="#111"/>
<rect x="1832" y="4012" width="77.2" height="3.3" fill="#111"/>
<text transform="translate(1870.3 3918.85) rotate(90)" text-anchor="middle" font-size="42" fill="#000" y="15.1">MF</text>
<rect x="853" y="3859" width="10.1" height="3.8" fill="#262626"/>
<text transform="translate(843 3874.4) scale(1 1.02)" text-anchor="end" font-size="37" fill="#4D4D4D" stroke="#4D4D4D" stroke-width="0.25">peroxidase activity</text>
<rect x="853" y="3917.95" width="10.1" height="3.8" fill="#262626"/>
<text transform="translate(843 3913.15) scale(1 1.02)" text-anchor="end" font-size="37" fill="#4D4D4D" stroke="#4D4D4D" stroke-width="0.25">oxidoreductase activity, acting on peroxide as</text>
<text transform="translate(843 3951.95) scale(1 1.02)" text-anchor="end" font-size="37" fill="#4D4D4D" stroke="#4D4D4D" stroke-width="0.25">acceptor</text>
<rect x="853" y="3976.9" width="10.1" height="3.8" fill="#262626"/>
<text transform="translate(843 3992.3) scale(1 1.02)" text-anchor="end" font-size="37" fill="#4D4D4D" stroke="#4D4D4D" stroke-width="0.25">antioxidant activity</text>
</g>
<rect x="878.2" y="4014" width="3.8" height="11.4" fill="#262626"/>
<text transform="translate(879.3 4061.3) scale(1 1.02)" text-anchor="middle" font-size="37" fill="#4D4D4D" stroke="#4D4D4D" stroke-width="0.25">0</text>
<rect x="1105.3" y="4014" width="3.8" height="11.4" fill="#262626"/>
<text transform="translate(1106.4 4061.3) scale(1 1.02)" text-anchor="middle" font-size="37" fill="#4D4D4D" stroke="#4D4D4D" stroke-width="0.25">50</text>
<rect x="1332.4" y="4014" width="3.8" height="11.4" fill="#262626"/>
<text transform="translate(1333.5 4061.3) scale(1 1.02)" text-anchor="middle" font-size="37" fill="#4D4D4D" stroke="#4D4D4D" stroke-width="0.25">100</text>
<rect x="1559.5" y="4014" width="3.8" height="11.4" fill="#262626"/>
<text transform="translate(1560.6 4061.3) scale(1 1.02)" text-anchor="middle" font-size="37" fill="#4D4D4D" stroke="#4D4D4D" stroke-width="0.25">150</text>
<rect x="1786.6" y="4014" width="3.8" height="11.4" fill="#262626"/>
<text transform="translate(1787.7 4061.3) scale(1 1.02)" text-anchor="middle" font-size="37" fill="#4D4D4D" stroke="#4D4D4D" stroke-width="0.25">200</text>
<text transform="translate(1348.25 4112.4) scale(1 1.02)" text-anchor="middle" font-size="45" fill="#000" stroke="#000" stroke-width="0.25">Richfactor</text>
<text transform="translate(1975 1631.2) scale(1 1.02)" font-size="45" fill="#000" stroke="#000" stroke-width="0.25">Count</text>
<circle cx="2010.7" cy="1694" r="15.85" fill="none" stroke="#000" stroke-width="2.5"/>
<text transform="translate(2069 1707.5) scale(1 1.02)" font-size="37" fill="#000" stroke="#000" stroke-width="0.25">10</text>
<circle cx="2010.7" cy="1764.7" r="20.7" fill="none" stroke="#000" stroke-width="2.5"/>
<text transform="translate(2069 1778.2) scale(1 1.02)" font-size="37" fill="#000" stroke="#000" stroke-width="0.25">20</text>
<circle cx="2010.7" cy="1835.8" r="24.3" fill="none" stroke="#000" stroke-width="2.5"/>
<text transform="translate(2069 1849.3) scale(1 1.02)" font-size="37" fill="#000" stroke="#000" stroke-width="0.25">30</text>
<circle cx="2010.7" cy="1906" r="27.25" fill="none" stroke="#000" stroke-width="2.5"/>
<text transform="translate(2069 1919.5) scale(1 1.02)" font-size="37" fill="#000" stroke="#000" stroke-width="0.25">40</text>
<text transform="translate(1975.6 2069.4) scale(1 1.02)" font-size="45" fill="#000" stroke="#000" stroke-width="0.25">−log10(pvalue)</text>
<defs><linearGradient id="cb" x1="0" y1="0" x2="0" y2="1">
<stop offset="0.0000" stop-color="#B5003A"/>
<stop offset="0.0456" stop-color="#CC1840"/>
<stop offset="0.0979" stop-color="#DE3340"/>
<stop offset="0.1454" stop-color="#F04540"/>
<stop offset="0.1930" stop-color="#FF5A3E"/>
<stop offset="0.2405" stop-color="#FF6A3C"/>
<stop offset="0.2875" stop-color="#FD8550"/>
<stop offset="0.3356" stop-color="#FFA066"/>
<stop offset="0.3831" stop-color="#FEBC80"/>
<stop offset="0.4307" stop-color="#FED595"/>
<stop offset="0.4664" stop-color="#FEE8A0"/>
<stop offset="0.4996" stop-color="#FEFDB8"/>
<stop offset="0.5288" stop-color="#E9F5B5"/>
<stop offset="0.5806" stop-color="#C5EAB0"/>
<stop offset="0.6281" stop-color="#A0DFAC"/>
<stop offset="0.6757" stop-color="#75D4AB"/>
<stop offset="0.7111" stop-color="#4CCBA8"/>
<stop offset="0.7421" stop-color="#00C1A1"/>
<stop offset="0.7707" stop-color="#00BCA5"/>
<stop offset="0.8183" stop-color="#00B2AB"/>
<stop offset="0.8658" stop-color="#00A6B3"/>
<stop offset="0.9134" stop-color="#009ABA"/>
<stop offset="0.9609" stop-color="#0090C0"/>
<stop offset="1.0000" stop-color="#0086C2"/>
</linearGradient></defs>
<rect x="1975" y="2095.9" width="72.1" height="355.5" fill="url(#cb)"/>
<rect x="1975" y="2110.6" width="14.4" height="3" fill="#fff" fill-opacity="0.45"/>
<rect x="2032.7" y="2110.6" width="14.4" height="3" fill="#fff" fill-opacity="0.45"/>
<text transform="translate(2068.2 2125.6) scale(1 1.02)" font-size="37" fill="#000" stroke="#000" stroke-width="0.25">100</text>
<rect x="1975" y="2196.6" width="14.4" height="3" fill="#fff" fill-opacity="0.45"/>
<rect x="2032.7" y="2196.6" width="14.4" height="3" fill="#fff" fill-opacity="0.45"/>
<text transform="translate(2068.2 2211.6) scale(1 1.02)" font-size="37" fill="#000" stroke="#000" stroke-width="0.25">75</text>
<rect x="1975" y="2282.4" width="14.4" height="3" fill="#fff" fill-opacity="0.45"/>
<rect x="2032.7" y="2282.4" width="14.4" height="3" fill="#fff" fill-opacity="0.45"/>
<text transform="translate(2068.2 2297.4) scale(1 1.02)" font-size="37" fill="#000" stroke="#000" stroke-width="0.25">50</text>
<rect x="1975" y="2368.4" width="14.4" height="3" fill="#fff" fill-opacity="0.45"/>
<rect x="2032.7" y="2368.4" width="14.4" height="3" fill="#fff" fill-opacity="0.45"/>
<text transform="translate(2068.2 2383.4) scale(1 1.02)" font-size="37" fill="#000" stroke="#000" stroke-width="0.25">25</text>
</svg>
</body>
</html>
